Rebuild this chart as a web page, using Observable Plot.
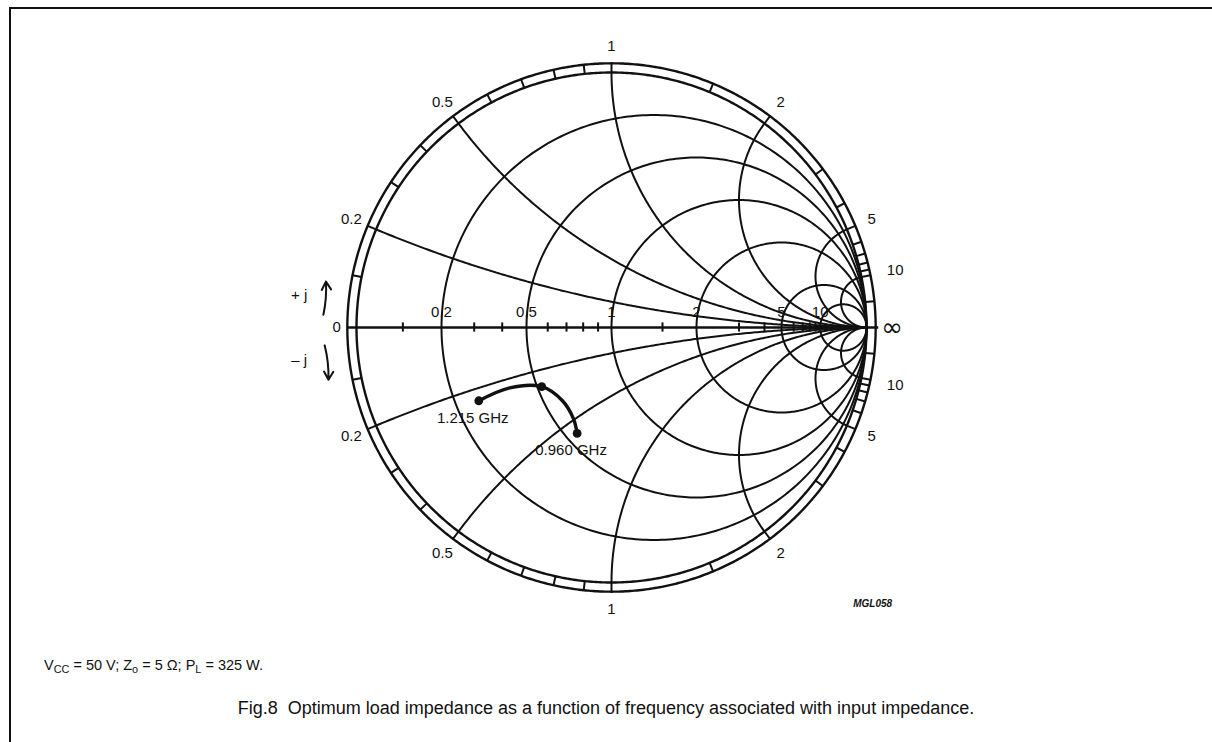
<!DOCTYPE html>
<html><head><meta charset="utf-8">
<script src="https://cdn.jsdelivr.net/npm/d3@7"></script>
<script src="https://cdn.jsdelivr.net/npm/@observablehq/plot@0.6"></script>
<style>
html,body{margin:0;padding:0;background:#fff;}
#page{position:relative;width:1212px;height:742px;overflow:hidden;font-family:"Liberation Sans",Arial,Helvetica,sans-serif;color:#111;}
#frame{position:absolute;left:9px;top:7px;right:-10px;bottom:-10px;border-left:2px solid #111;border-top:2px solid #111;}
#chart{position:absolute;left:0;top:0;}
#cond{position:absolute;left:44px;top:657px;font-size:14.5px;}
#cond sub{font-size:0.75em;vertical-align:-0.25em;}
#cap{position:absolute;left:0;width:1212px;text-align:center;top:698px;font-size:18px;}
</style></head>
<body><div id="page"><div id="frame"></div><div id="chart"></div>
<div id="cond">V<sub>CC</sub> = 50 V; Z<sub>o</sub> = 5 Ω; P<sub>L</sub> = 325 W.</div>
<div id="cap">Fig.8&nbsp; Optimum load impedance as a function of frequency associated with input impedance.</div>
</div>
<script>
// ---- data ----
const rCircles = [0.2, 0.5, 1, 2, 5, 10];
const xArcs = [0.2, 0.5, 1, 2, 5, 10];
const axisLabels = ["0.2", "0.5", "1", "2", "5", "10"];
const ringLabels = ["0.2", "0.5", "1", "2", "5", "10"];
const axisTicks = [0.1, 0.3, 0.4, 0.6, 0.7, 0.8, 0.9, 1.5, 3, 4, 6, 7, 8, 9];
const ringTicks = [0.1, 0.2, 0.3, 0.4, 0.5, 0.6, 0.7, 0.8, 0.9, 1, 1.5, 2, 3, 4, 5, 6, 7, 8, 9, 10, 20];
const loadR = [0.27, 0.39, 0.52, 0.585, 0.587, 0.554];
const loadX = [-0.24, -0.235, -0.277, -0.38, -0.493, -0.569];
const dotIndex = [0, 2, 5];
const freqLabels = ["1.215 GHz", "0.960 GHz"];
const freqIndex = [0, 5];

// ---- layout ----
const W = 1212, H = 650, CX = 611, CY = 327, R = 255;
const RING = 1.036;
const FONT = "Liberation Sans, Arial, Helvetica, sans-serif";
const INK = "#111";

function gamma(r, x) {
  const a = r - 1, b = x, c = r + 1, d = x, den = c * c + d * d;
  return [(a * c + b * d) / den, (b * c - a * d) / den];
}
const rToG = r => (r - 1) / (r + 1);

// grid geometry derived from the grid values
const gridPts = [];
rCircles.forEach(r => {
  const c = r / (1 + r), rad = 1 / (1 + r);
  for (let i = 0; i <= 360; i++) {
    const t = i * Math.PI / 180;
    gridPts.push({id: "r" + r, gx: c + rad * Math.cos(t), gy: rad * Math.sin(t)});
  }
});
xArcs.forEach(x => [1, -1].forEach(s => {
  const R0 = 1 / x, ex = (x * x - 1) / (x * x + 1), ey = 2 * x / (x * x + 1);
  const p0 = -Math.PI / 2;
  let p1 = Math.atan2(ey - R0, ex - 1);
  if (p1 > p0) p1 -= 2 * Math.PI;
  for (let i = 0; i <= 240; i++) {
    const p = p0 + (p1 - p0) * i / 240;
    gridPts.push({id: "x" + s * x, gx: 1 + R0 * Math.cos(p), gy: s * (R0 + R0 * Math.sin(p))});
  }
}));
const borderPts = [];
[1, RING].forEach(rr => {
  for (let i = 0; i <= 720; i++) {
    const t = i * Math.PI / 360;
    borderPts.push({id: rr, gx: rr * Math.cos(t), gy: rr * Math.sin(t)});
  }
});
const ringAngle = x => Math.PI - 2 * Math.atan(x);
const ringTickData = [];
ringTicks.forEach(x => [1, -1].forEach(s => {
  const t = ringAngle(x);
  ringTickData.push({x1: Math.cos(t), y1: s * Math.sin(t), x2: RING * Math.cos(t), y2: s * RING * Math.sin(t)});
}));
const ringLabelData = [];
xArcs.forEach((x, i) => [1, -1].forEach(s => {
  const t = ringAngle(x), rho = x >= 10 ? 1.135 : 1.105;
  ringLabelData.push({gx: rho * Math.cos(t), gy: s * rho * Math.sin(t), text: ringLabels[i]});
}));
const load = loadR.map((r, i) => { const g = gamma(r, loadX[i]); return {gx: g[0], gy: g[1]}; });

const chart = Plot.plot({
  width: W, height: H,
  marginLeft: 0, marginRight: 0, marginTop: 0, marginBottom: 0,
  x: {domain: [-CX / R, (W - CX) / R], axis: null},
  y: {domain: [-(H - CY) / R, CY / R], axis: null},
  style: {background: "transparent"},
  marks: [
    Plot.line(gridPts, {x: "gx", y: "gy", z: "id", stroke: INK, strokeWidth: 2}),
    Plot.line(borderPts, {x: "gx", y: "gy", z: "id", stroke: INK, strokeWidth: 2.4}),
    Plot.link(ringTickData, {x1: "x1", y1: "y1", x2: "x2", y2: "y2", stroke: INK, strokeWidth: 2}),
    Plot.ruleY([0], {x1: -RING, x2: RING + 0.012, stroke: INK, strokeWidth: 2.4}),
    Plot.ruleX(axisTicks, {x: rToG, y1: -0.018, y2: 0.018, stroke: INK, strokeWidth: 2}),
    Plot.text(rCircles, {x: rToG, y: 0.06, text: (d, i) => axisLabels[i], fontSize: 15, fontFamily: FONT, fill: INK}),
    Plot.text(["0"], {x: -1.078, y: 0, text: d => d, fontSize: 15, fontFamily: FONT, fill: INK}),
    Plot.text(["∞"], {x: 1.1, y: 0, text: d => d, fontSize: 26, fontFamily: "DejaVu Sans, sans-serif", fill: INK}),
    Plot.text(ringLabelData, {x: "gx", y: "gy", text: "text", fontSize: 15, fontFamily: FONT, fill: INK}),
    Plot.text(["+ j", "– j"], {x: -1.225, y: (d, i) => i === 0 ? 0.125 : -0.13, text: d => d, fontSize: 15, fontFamily: FONT, fill: INK}),
    Plot.arrow([0], {x1: -1.13, y1: 0.05, x2: -1.12, y2: 0.18, bend: -8, stroke: INK, strokeWidth: 2, headLength: 7}),
    Plot.arrow([0], {x1: -1.125, y1: -0.07, x2: -1.11, y2: -0.205, bend: 8, stroke: INK, strokeWidth: 2, headLength: 7}),
    Plot.line(load, {x: "gx", y: "gy", curve: "catmull-rom", stroke: INK, strokeWidth: 3.4}),
    Plot.dot(dotIndex.map(i => load[i]), {x: "gx", y: "gy", r: 4.4, fill: INK}),
    Plot.text(freqIndex.map((k, j) => ({...load[k], t: freqLabels[j]})), {x: "gx", y: "gy", text: "t", dx: -6, dy: 17, fontSize: 15, fontFamily: FONT, fill: INK}),
    Plot.text(["MGL058"], {x: 1.024, y: -1.082, text: d => d, fontSize: 10, fontStyle: "italic", fontWeight: "bold", fontFamily: FONT, fill: INK})
  ]
});
document.getElementById("chart").appendChild(chart);
</script>
</body></html>
